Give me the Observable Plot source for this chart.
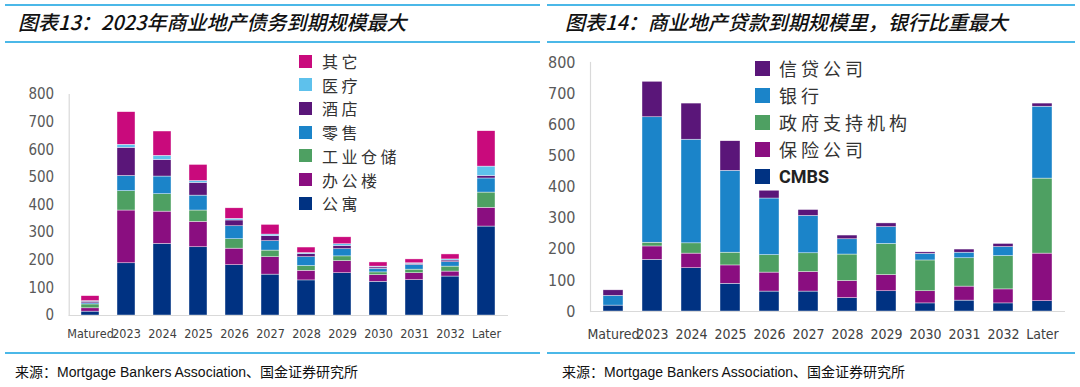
<!DOCTYPE html>
<html>
<head>
<meta charset="utf-8">
<script src="https://cdn.jsdelivr.net/npm/d3@7"></script>
<script src="https://cdn.jsdelivr.net/npm/@observablehq/plot@0.6"></script>
<style>
  html, body { margin: 0; padding: 0; background: #fff; }
  #root { position: relative; width: 1080px; height: 387px; overflow: hidden; font-family: "Noto Sans CJK SC", sans-serif; }
  .hline { position: absolute; height: 1.5px; background: #4BB8E8; }
  .title { position: absolute; font-size: 20px; font-style: italic; font-weight: 500; color: #111; white-space: nowrap; line-height: 1; }
  .source { position: absolute; font-size: 14px; color: #111; white-space: nowrap; line-height: 1; }
  .source .en { font-family: "Liberation Sans", Arial, sans-serif; }
  .leg { position: absolute; display: flex; align-items: center; white-space: nowrap; color: #333; }
  .leg .sw { flex: none; }
  .plot { position: absolute; top: 0; }
</style>
</head>
<body>
<div id="root"></div>
<script>
// ---------- data ----------
const categories = ["Matured","2023","2024","2025","2026","2027","2028","2029","2030","2031","2032","Later"];
const yTicks = [0,100,200,300,400,500,600,700,800];

// Left chart: debt maturities by property type (bottom -> top)
const leftSeries = ["公寓","办公楼","工业仓储","零售","酒店","医疗","其它"];
const leftColors = ["#003282","#8A0E80","#4EA062","#1B84C9","#5A1679","#5EC1EC","#C90A7C"];
const apartment  = [14,189,259,247,182,148,127,153,122,128,141,322];
const office     = [12,191,117, 92, 60, 63, 35, 44, 24, 25, 18, 68];
const industrial = [14, 70, 63, 41, 34, 24, 17, 17, 10, 13, 18, 55];
const retail     = [ 4, 55, 64, 54, 47, 34, 32, 26, 13, 17, 16, 51];
const hotel      = [ 6,102, 60, 46, 21, 18, 11, 12,  5,  4,  6,  9];
const healthcare = [ 2, 11, 15,  7,  6,  6,  4,  6,  3,  2,  4, 34];
const other      = [18,118, 88, 58, 38, 35, 20, 25, 15, 14, 18,128];
const leftValues = [apartment, office, industrial, retail, hotel, healthcare, other];

// Right chart: loan maturities by lender type (bottom -> top)
const rightSeries = ["CMBS","保险公司","政府支持机构","银行","信贷公司"];
const rightColors = ["#003282","#8A0E80","#4EA062","#1B84C9","#5A1679"];
const cmbs      = [19,166,139, 89, 64, 64, 43, 65, 26, 35, 26, 33];
const insurance = [ 0, 43, 47, 59, 61, 63, 55, 52, 39, 45, 45,153];
const gse       = [ 0, 12, 33, 41, 56, 60, 85,100, 99, 91,107,241];
const bank      = [31,403,333,263,182,120, 49, 54, 21, 18, 29,231];
const credit    = [18,114,116, 95, 25, 19, 12, 12,  5, 10, 10, 10];
const rightValues = [cmbs, insurance, gse, bank, credit];

const titleLeft = "图表13：2023年商业地产债务到期规模最大";
const titleRight = "图表14：商业地产贷款到期规模里，银行比重最大";
const sourceText = ["来源：", "Mortgage Bankers Association", "、国金证券研究所"];

// ---------- helpers ----------
const root = document.getElementById("root");
function el(tag, cls, css, html) {
  const e = document.createElement(tag);
  if (cls) e.className = cls;
  Object.assign(e.style, css || {});
  if (html != null) e.innerHTML = html;
  root.appendChild(e);
  return e;
}
function tidy(series, values) {
  const rows = [];
  series.forEach((s, i) => categories.forEach((c, j) => rows.push({cat: c, series: s, value: values[i][j]})));
  return rows;
}
const axisFont = '"Liberation Sans Narrow","DejaVu Sans Condensed","Roboto",sans-serif';

function makePlot(opts) {
  const {series, colors, values, width, mL, mR, mT, mB, yFont, xFont, xPad} = opts;
  const data = tidy(series, values);
  return Plot.plot({
    width, height: 350,
    marginLeft: mL, marginRight: mR, marginTop: mT, marginBottom: mB,
    style: {background: "transparent", fontFamily: axisFont, color: "#595959", overflow: "visible"},
    x: {domain: categories, paddingInner: 0.49, paddingOuter: 0.245, label: null},
    y: {domain: [0, 800], label: null},
    color: {domain: series, range: colors},
    marks: [
      Plot.axisY({ticks: yTicks, tickSize: 0, tickPadding: 15, label: null, fontSize: yFont, fill: "#595959"}),
      Plot.axisX({tickSize: 0, tickPadding: xPad, label: null, fontSize: xFont, fill: "#404040"}),
      Plot.frame({anchor: "left", stroke: "#D9D9D9", strokeWidth: 1.2}),
      Plot.barY(data, {x: "cat", y: "value", z: "series", fill: "series", order: series,
        stroke: "#ffffff", strokeWidth: 0.5, strokeOpacity: 0.8}),
      Plot.ruleY([0], {stroke: "#D9D9D9", strokeWidth: 1.2})
    ]
  });
}

// ---------- frame lines & titles ----------
el("div", "hline", {left: "5px", width: "535px", top: "4px"});
el("div", "hline", {left: "5px", width: "535px", top: "41px"});
el("div", "hline", {left: "547px", width: "528px", top: "4px"});
el("div", "hline", {left: "547px", width: "528px", top: "41px"});
el("div", "hline", {left: "5px", width: "535px", top: "352px"});
el("div", "hline", {left: "547px", width: "528px", top: "352px"});

el("div", "title", {left: "18px", top: "12px"}, titleLeft);
el("div", "title", {left: "565px", top: "12px"}, titleRight);

const srcHtml = `${sourceText[0]}<span class="en">${sourceText[1]}</span>${sourceText[2]}`;
el("div", "source", {left: "15px", top: "364px"}, srcHtml);
el("div", "source", {left: "562px", top: "364px"}, srcHtml);

// ---------- plots ----------
const pL = makePlot({series: leftSeries, colors: leftColors, values: leftValues,
  width: 540, mL: 68.7, mR: 32, mT: 94, mB: 35, yFont: 15, xFont: 12.5, xPad: 14});
pL.classList.add("plot"); pL.style.left = "0px";
root.appendChild(pL);

const pR = makePlot({series: rightSeries, colors: rightColors, values: rightValues,
  width: 540, mL: 50, mR: 15, mT: 62, mB: 39, yFont: 16, xFont: 14, xPad: 18});
pR.classList.add("plot"); pR.style.left = "540px";
root.appendChild(pR);

// ---------- legends (top item = last series) ----------
leftSeries.slice().reverse().forEach((s, i) => {
  const color = leftColors[leftSeries.indexOf(s)];
  const item = el("div", "leg", {left: "299px", top: (61 + i * 23.7 - 10) + "px", height: "20px", fontSize: "16px", letterSpacing: "3.5px"});
  item.innerHTML = `<span class="sw" style="width:13px;height:13px;background:${color};margin-right:10px"></span><span>${s}</span>`;
});
rightSeries.slice().reverse().forEach((s, i) => {
  const color = rightColors[rightSeries.indexOf(s)];
  const latin = /^[A-Z]+$/.test(s);
  const item = el("div", "leg", {left: "755px", top: (68 + i * 27 - 11) + "px", height: "22px",
    fontSize: "18px", letterSpacing: latin ? "0px" : "4px",
    fontFamily: latin ? '"Liberation Sans Narrow","Roboto",sans-serif' : '"Noto Sans CJK SC",sans-serif',
    fontWeight: latin ? "bold" : "normal", color: latin ? "#222" : "#333"});
  item.innerHTML = `<span class="sw" style="width:15px;height:15px;background:${color};margin-right:9px"></span><span>${s}</span>`;
});
</script>
</body>
</html>
